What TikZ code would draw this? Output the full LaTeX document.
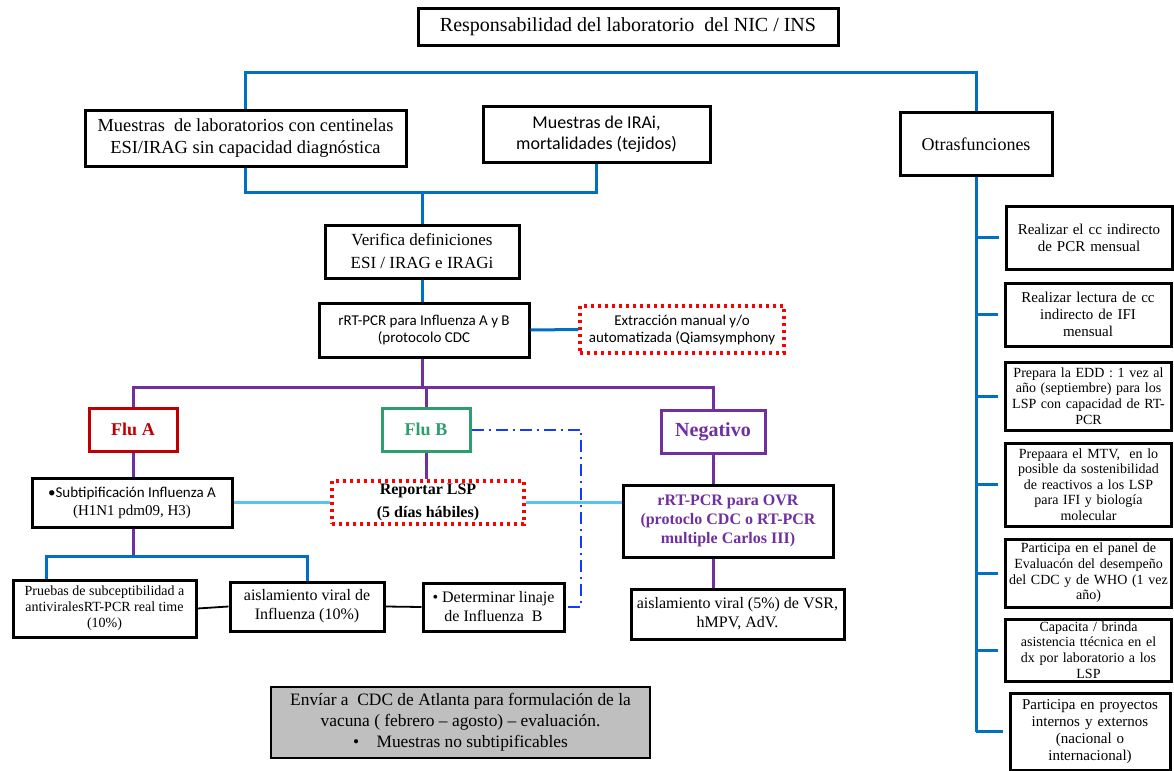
\documentclass[tikz,border=0pt]{standalone}
\usepackage{fontspec}
\setmainfont{Liberation Serif}
\newfontfamily\sansf{Carlito}
\usetikzlibrary{positioning}

\definecolor{linkblue}{RGB}{0,112,192}
\definecolor{lightlink}{RGB}{90,195,240}
\definecolor{flupurple}{RGB}{112,48,160}
\definecolor{flured}{RGB}{192,0,0}
\definecolor{flugreen}{RGB}{46,158,110}
\definecolor{dashblue}{RGB}{20,60,255}
\definecolor{boxgray}{RGB}{191,191,191}

\begin{document}
\begin{tikzpicture}[
    x=0.5pt, y=-0.5pt,
    box/.style={rectangle, draw, line width=1.5pt, fill=white, align=center, inner sep=1pt, font=\fontsize{8}{9.5}\selectfont},
    dotbox/.style={box, draw=red, dotted, line width=1.6pt},
    flubox/.style={box, font=\fontsize{9}{10}\selectfont\bfseries, minimum width=44pt, minimum height=21.5pt},
    taskbox/.style={box, text width=81pt, minimum width=83pt, font=\fontsize{7}{7.8}\selectfont},
    link/.style={draw=linkblue, line width=1.5pt},
    purplelink/.style={draw=flupurple, line width=1.5pt},
    lightlink/.style={draw=lightlink, line width=1.5pt},
    thinlink/.style={draw, line width=0.9pt},
    dashlink/.style={draw=dashblue, line width=1pt, dash pattern=on 6pt off 2.5pt on 1pt off 2.5pt}
]
\useasboundingbox (0,0) rectangle (1174,771);

% Nodes
\node[box, minimum width=210pt, minimum height=18.5pt, font=\fontsize{10}{11}\selectfont] (title) at (628,27) {Responsabilidad del laboratorio\ \ del NIC / INS};
\node[box, minimum width=160.5pt, minimum height=28pt, font=\fontsize{9.2}{11}\selectfont] (samples) at (245.5,138) {Muestras\ \ de laboratorios con centinelas\\ESI/IRAG sin capacidad diagnóstica};
\node[box, minimum width=113.5pt, minimum height=28pt, font=\sansf\fontsize{9}{10.5}\selectfont] (irai) at (596.5,134) {Muestras de IRAi,\\mortalidades (tejidos)};
\node[box, minimum width=76pt, minimum height=31.5pt, font=\fontsize{9}{10}\selectfont] (others) at (976,144) {Otrasfunciones};
\node[box, minimum width=97pt, minimum height=26.5pt, font=\fontsize{8.5}{11.5}\selectfont] (verify) at (422,251.5) {Verifica definiciones\\ESI / IRAG e IRAGi};
\node[box, minimum width=105pt, minimum height=27pt, font=\sansf\fontsize{7.5}{8.5}\selectfont] (pcr) at (424,330) {rRT-PCR para Influenza A y B\\(protocolo CDC};
\node[dotbox, minimum width=102pt, minimum height=23.5pt, font=\sansf\fontsize{7.5}{8.5}\selectfont] (extraction) at (682,329.5) {Extracción manual y/o\\automatizada (Qiamsymphony};

\node[flubox, draw=flured, text=flured] (flua) at (133,429.5) {Flu A};
\node[flubox, draw=flugreen, text=flugreen] (flub) at (426,429.5) {Flu B};
\node[flubox, draw=flupurple, text=flupurple, minimum width=52pt, font=\fontsize{10}{11}\selectfont\bfseries] (negative) at (713,432) {Negativo};

\node[box, minimum width=100pt, minimum height=24.5pt, font=\fontsize{7.5}{9}\selectfont] (subtype) at (132,502.5) {{\sansf\textbullet Subtipificación Influenza A}\\(H1N1 pdm09, H3)};
\node[dotbox, minimum width=96pt, minimum height=21.5pt, font=\fontsize{8}{11.5}\selectfont\bfseries] (report) at (428,502.5) {Reportar LSP\\(5 días hábiles)};
\node[box, minimum width=105pt, minimum height=36pt, text=flupurple, font=\fontsize{8}{9.5}\selectfont\bfseries] (ovr) at (728,521) {rRT-PCR para OVR\\(protoclo CDC o RT-PCR\\multiple Carlos III)};
\node[box, minimum width=106.5pt, minimum height=25pt] (vsr) at (737.5,614) {aislamiento viral (5\%) de VSR,\\hMPV, AdV.};

\node[box, minimum width=91.5pt, minimum height=28.5pt, font=\fontsize{7}{8}\selectfont] (susceptibility) at (104.5,608.5) {Pruebas de subceptibilidad a\\antiviralesRT-PCR real time\\(10\%)};
\node[box, minimum width=77pt, minimum height=24.5pt] (isolation) at (307,606.5) {aislamiento viral de\\Influenza (10\%)};
\node[box, minimum width=70.5pt, minimum height=24pt] (lineage) at (493.5,607) {\textbullet\ Determinar linaje\\de Influenza\ \ B};

\node[box, fill=boxgray, line width=1pt, minimum width=189.5pt, minimum height=35.5pt, font=\fontsize{8.7}{10.5}\selectfont] (vaccine) at (460.5,722.5) {Envíar a\ \ CDC de Atlanta para formulación de la\\vacuna ( febrero -- agosto) -- evaluación.\\\textbullet\quad Muestras no subtipificables};

% Other functions
\node[taskbox, minimum height=31.5pt, font=\fontsize{7.5}{8.5}\selectfont] (task1) at (1089,237.5) {Realizar el cc indirecto\\de PCR mensual};
\node[taskbox, minimum height=31.5pt, font=\fontsize{7.5}{8.5}\selectfont] (task2) at (1088,314.5) {Realizar lectura de cc\\indirecto de IFI\\mensual};
\node[taskbox, minimum height=34pt] (task3) at (1088.5,396) {Prepara la EDD : 1 vez al\\año (septiembre) para los\\LSP con capacidad de RT-\\PCR};
\node[taskbox, minimum height=41.5pt] (task4) at (1088.5,484.5) {Prepaara el MTV,\ \ en lo\\posible da sostenibilidad\\de reactivos a los LSP\\para IFI y biología\\molecular};
\node[taskbox, minimum height=34pt] (task5) at (1088.5,573) {Participa en el panel de\\Evaluacón del desempeño\\del CDC y de WHO (1 vez\\año)};
\node[taskbox, minimum height=31pt] (task6) at (1088.5,650) {Capacita / brinda\\asistencia ttécnica en el\\dx por laboratorio a los\\LSP};
\node[taskbox, text width=78pt, minimum width=80pt, minimum height=38.5pt, font=\fontsize{7.5}{8.5}\selectfont] (task7) at (1090,731.5) {Participa en proyectos\\internos y externos\\(nacional o\\internacional)};

% Paths
\coordinate (topbar) at (0,72);
\coordinate (midbar) at (0,192);
\coordinate (split) at (0,387);
\coordinate (bracket) at (0,556);
\coordinate (dashx) at (581,0);

\draw[link] (samples.north) -- (samples.north |- topbar) -- (others.north |- topbar) -- (others.north);
\draw[link] (samples.south) -- (samples.south |- midbar) -- (irai.south |- midbar) -- (irai.south);
\draw[link] (verify.north) -- (verify.north |- midbar);
\draw[link] (verify.south) -- (verify.south |- pcr.north);
\draw[link] (pcr.east) -- (extraction.west);

\draw[purplelink] (verify.south |- pcr.south) -- (verify.south |- split);
\draw[purplelink] (flua.north) -- (flua.north |- split) -- (negative.north |- split) -- (negative.north);
\draw[purplelink] (flub.north) -- (flub.north |- split);
\draw[purplelink] (flua.south) -- (subtype.north -| flua.south);
\draw[purplelink] (flub.south) -- (report.north -| flub.south);
\draw[purplelink] (negative.south) -- (negative.south |- ovr.north);
\draw[purplelink] (negative.south |- ovr.south) -- (negative.south |- vsr.north);
\draw[purplelink] (subtype.south -| flua.south) -- (flua.south |- bracket);

\draw[lightlink] (subtype.east) -- (report.west);
\draw[lightlink] (report.east) -- (report.east -| ovr.west);

\draw[dashlink] (flub.east) -| (dashx |- lineage.east) -- (lineage.east);

\draw[link] ([xshift=17.5pt]susceptibility.north west) -- ([xshift=17.5pt]susceptibility.north west |- bracket) -- (isolation.north |- bracket) -- (isolation.north);
\draw[thinlink] (susceptibility.east) -- (isolation.west);
\draw[thinlink] (isolation.east) -- (lineage.west);

\draw[link] (others.south) -- (others.south |- task7.west);
\foreach \n in {task1,task2,task3,task4,task5,task6,task7}
    \draw[link] (others.south |- \n.west) -- ([xshift=-3pt]\n.west);

\end{tikzpicture}
\end{document}
